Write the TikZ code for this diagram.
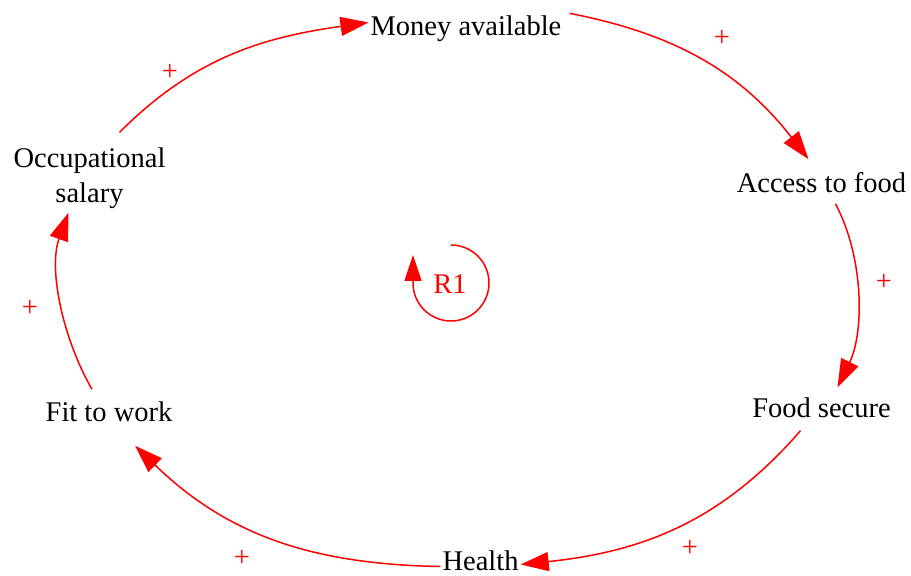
\documentclass[tikz,border=0pt]{standalone}
\usepackage{fontspec}
\setmainfont{Liberation Serif}
\usetikzlibrary{arrows.meta}

\begin{document}
\begin{tikzpicture}[x=1pt,y=1pt,
	every node/.style={font=\fontsize{28.5}{35}\selectfont, inner sep=2pt},
	link/.style={red, line width=1.5pt, -{Triangle[length=28pt,width=19pt]}},
	sign/.style={red}]
	\useasboundingbox (0,0) rectangle (911,576);
	% variables
	\node (money) at (466,547.5) {Money available};
	\node (access) at (821.5,393.5) {Access to food};
	\node (secure) at (821.5,168.5) {Food secure};
	\node (health) at (480.5,15.5) {Health};
	\node (fit) at (109,164.5) {Fit to work};
	\node (salary) [align=center] at (89.5,398) {Occupational\\salary};
	% links
	\draw [link] ([xshift=30pt,yshift=13pt]salary.north) to[out=45,in=188] ([yshift=6pt]money.west);
	\draw [link] ([xshift=6pt]money.north east) to[out=-11,in=128] ([xshift=-13pt,yshift=11pt]access.north);
	\draw [link] ([xshift=14pt,yshift=-9pt]access.south) to[out=-62,in=64,looseness=0.85] ([xshift=16pt,yshift=8pt]secure.north);
	\draw [link] ([xshift=-21pt,yshift=-11pt]secure.south) to[out=-131,in=6] ([yshift=-4pt]health.east);
	\draw [link] ([yshift=-6pt]health.west) to[out=179,in=-44] ([xshift=26pt,yshift=-22pt]fit.south);
	\draw [link] ([xshift=-17pt,yshift=10pt]fit.north) to[out=120,in=-110,looseness=0.85] ([xshift=-21pt,yshift=-2pt]salary.south);
	% polarities
	\path (170,504) node [sign] (p1) {+};
	\path (722,538) node [sign] (p2) {+};
	\path (884,294) node [sign] (p3) {+};
	\path (690,28) node [sign] (p4) {+};
	\path (242,18) node [sign] (p5) {+};
	\path (30,268) node [sign] (p6) {+};
	% loop
	\node [red] (loop) at (450,292) {R1};
	\coordinate (looptop) at (451,331);
	\draw [red, line width=1.5pt, -{Triangle[length=26pt,width=17pt]}] (looptop) arc (90:-180:38) -- ++(0,28);
\end{tikzpicture}
\end{document}
